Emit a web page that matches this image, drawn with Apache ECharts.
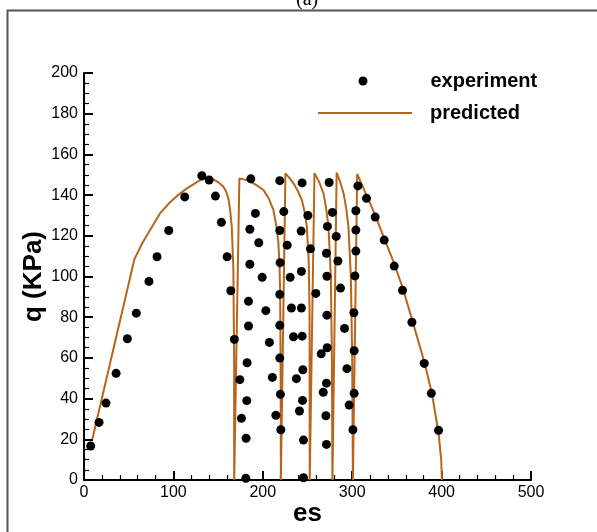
<!DOCTYPE html>
<html>
<head>
<meta charset="utf-8">
<script src="https://cdn.jsdelivr.net/npm/echarts@6/dist/echarts.min.js"></script>
<style>
  html, body { margin: 0; padding: 0; background: #fff; }
  #chart { width: 597px; height: 532px; }
</style>
</head>
<body>
<div id="chart"></div>
<script>
// experiment points (es, q)
var expX = [7.5, 16.8, 24.6, 35.9, 48.5, 58.5, 72.7, 81.7, 94.8, 112.7, 131.8, 140, 147, 153.7, 160.1, 164.2, 168.2,
  174.3, 176.1, 181.3, 181, 182.1, 182.4, 184, 184, 185.5, 185.5, 186.6, 191.7, 195.5, 199.3, 203.4, 207.4, 210.7, 214.6,
  219, 223.5, 219, 227.3, 219.4, 230.6, 219, 232, 219, 234.3, 219, 237.6, 219.7, 241, 220.2,
  244, 250.4, 242.9, 253.3, 243.2, 259.3, 243.2, 244, 244.8, 244.4, 245.5, 245.5,
  274.2, 277.9, 272.3, 282.1, 271.2, 284, 271.7, 286.9, 271.7, 291.4, 272, 265.3, 294.1, 271.2, 267.6, 296.6, 270.6, 271.2,
  306.4, 304.1, 304.1, 304.1, 303, 301.9, 302.2, 302.2, 300.8,
  316, 325.7, 335.8, 347, 356.3, 366.8, 380.6, 388.5, 396.6];
var expY = [16.7, 28.3, 37.8, 52.4, 69.4, 82, 97.6, 109.7, 122.6, 139.1, 149.5, 147.4, 139.5, 126.6, 109.7, 93, 69.1,
  49.3, 30.3, 20.5, 0.8, 39, 57.6, 75.7, 87.8, 106, 123.2, 148, 131, 116.6, 99.6, 83.2, 67.6, 50.4, 31.8,
  147.1, 131.9, 122.6, 115.4, 106.8, 99.6, 91.2, 84.5, 76, 70.4, 59.9, 49.8, 42.1, 33.9, 24.7,
  146, 130, 122.3, 113.6, 102.5, 91.7, 84.5, 70.7, 54.2, 39.1, 19.6, 1.1,
  146.2, 131.5, 124.6, 119.7, 111.4, 107.6, 100.1, 94.3, 81, 74.5, 65, 62, 54.7, 47.6, 43.1, 36.8, 31.6, 17.5,
  144.5, 132.3, 122.8, 112.5, 100.3, 82.2, 63.5, 42.6, 24.7,
  138.4, 129.2, 117.9, 105.1, 93.2, 77.5, 57.3, 42.6, 24.4];

// predicted curve
var predX = [9.3, 56.3, 65, 73.9, 85, 96.3, 104, 110, 116, 122.3, 128, 133.5, 139, 144.7, 150, 155.9, 159, 161.5, 163.5, 165.3, 167.1, 167.9, 168,
  173.8, 180, 185.8, 193, 200.7, 206.5, 211.9, 215.5, 217.5, 218.8, 219.4, 220, 220.2,
  225.3, 229.5, 234.3, 239, 243.7, 247, 249.3, 251.3, 252.3, 252.5,
  257.8, 263, 267.9, 271, 273.5, 276.1, 277.3, 277.9,
  282.6, 286.5, 290.3, 293.5, 295.8, 298.5, 300, 300.8,
  305.6, 316, 325.7, 335.8, 347, 356.7, 367.1, 380.6, 389.2, 396.6, 399.6, 400.3];
var predY = [20, 108.4, 116.2, 122.8, 131, 136.5, 139.6, 141.6, 143.6, 145.3, 146.9, 147.9, 148.2, 147.7, 146.4, 144.1, 141.8, 138.4, 132.5, 124.4, 103.2, 59, 0,
  148.2, 147.6, 146.6, 144.9, 142.5, 138.5, 132.6, 124, 116.3, 104, 91.7, 50, 0,
  150.7, 148.6, 145.8, 142.2, 137.6, 131.5, 124.4, 108.1, 83.5, 0,
  150.7, 146.5, 140.9, 133, 124.4, 99.9, 60, 0,
  151.1, 146.5, 140.9, 133, 124.4, 99.9, 60, 0,
  150.4, 140, 130.2, 118.7, 106.4, 94.1, 78.6, 58.1, 42.6, 22.9, 9.8, 0];

var xRange = [0, 500];
var yRange = [0, 200];

var FONT = '"Liberation Sans", Arial, sans-serif';
var LINE_COLOR = '#b8651b';

function pairs(xs, ys) {
  return xs.map(function (x, i) { return [x, ys[i]]; });
}

function axis(min, max, interval, minorSplit, name, gap, labelMargin) {
  return {
    type: 'value',
    min: min,
    max: max,
    interval: interval,
    name: name,
    nameLocation: 'middle',
    nameGap: gap,
    nameMoveOverlap: false,
    nameTextStyle: { fontFamily: FONT, fontSize: 26, fontWeight: 'bold', color: '#000' },
    axisLine: { show: true, lineStyle: { color: '#000', width: 2 } },
    axisTick: { show: true, inside: true, length: 9, lineStyle: { color: '#000', width: 2 } },
    minorTick: { show: true, splitNumber: minorSplit, length: 5, lineStyle: { color: '#000', width: 1.2 } },
    axisLabel: { fontFamily: FONT, fontSize: 16, color: '#000', margin: labelMargin },
    splitLine: { show: false }
  };
}

var chart = echarts.init(document.getElementById('chart'), null, { renderer: 'canvas' });

chart.setOption({
  animation: false,
  backgroundColor: '#fff',
  grid: { left: 84, right: 66, top: 73, bottom: 52, containLabel: false, outerBoundsMode: 'none' },
  xAxis: axis(xRange[0], xRange[1], 100, 5, 'es', 21, 5),
  yAxis: axis(yRange[0], yRange[1], 20, 4, 'q (KPa)', 37, 6),
  legend: [
    {
      data: [{ name: 'experiment', icon: 'circle' }],
      left: 358.5, top: 71, padding: 0,
      itemWidth: 9, itemHeight: 9,
      itemStyle: { color: '#000', opacity: 1 },
      textStyle: { fontFamily: FONT, fontSize: 20, fontWeight: 'bold', color: '#000', padding: [0, 0, 0, 58] }
    },
    {
      data: [{ name: 'predicted', icon: 'rect' }],
      left: 318, top: 103, padding: 0,
      itemWidth: 94, itemHeight: 2,
      itemStyle: { color: LINE_COLOR },
      textStyle: { fontFamily: FONT, fontSize: 20, fontWeight: 'bold', color: '#000', padding: [0, 0, 0, 13] }
    }
  ],
  series: [
    {
      name: 'predicted',
      type: 'line',
      data: pairs(predX, predY),
      symbol: 'none',
      smooth: false,
      lineStyle: { color: LINE_COLOR, width: 2 },
      itemStyle: { color: LINE_COLOR },
      z: 2
    },
    {
      name: 'experiment',
      type: 'scatter',
      data: pairs(expX, expY),
      symbol: 'circle',
      symbolSize: 9,
      itemStyle: { color: '#000', opacity: 1 },
      z: 3
    }
  ],
  graphic: [
    {
      type: 'rect',
      shape: { x: 7.5, y: 10.5, width: 640, height: 580 },
      style: { fill: 'none', stroke: '#555', lineWidth: 2 },
      silent: true
    },
    {
      type: 'text',
      left: 296, top: -10,
      style: { text: '(a)', fontFamily: '"Liberation Serif", "Times New Roman", serif', fontSize: 20, fill: '#000' },
      silent: true
    }
  ]
});
</script>
</body>
</html>
